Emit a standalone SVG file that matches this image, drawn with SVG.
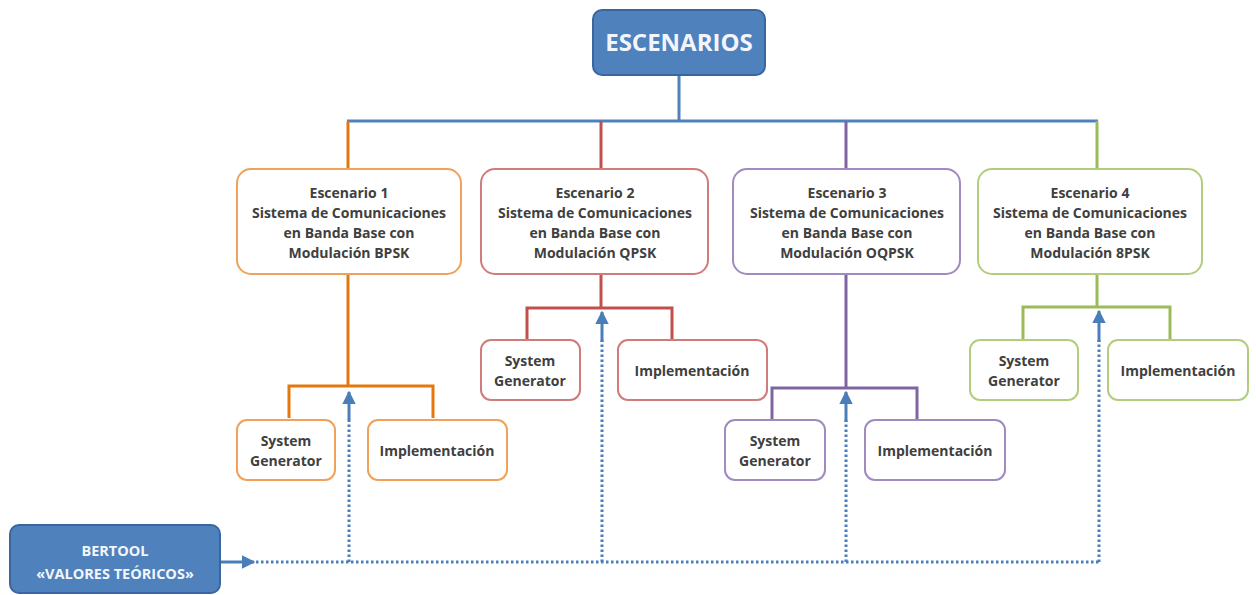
<svg xmlns="http://www.w3.org/2000/svg" width="1256" height="595" viewBox="0 0 1256 595">
  <defs>
    <marker id="ah" viewBox="0 0 10 10" refX="9" refY="5" markerWidth="4.6" markerHeight="4.6" orient="auto" markerUnits="strokeWidth">
      <path d="M0,0 L10,5 L0,10 z" fill="#4A7EBB"/>
    </marker>
  </defs>
  <style>
    text { font-family: "Open Sans", "Liberation Sans", sans-serif; font-weight: 700; text-anchor: middle; }
    .lbl { font-size: 14px; fill: #404040; }
    .hdr { fill: #4F81BD; stroke: #3A66A0; stroke-width: 2; }
    .wt { fill: #F2F6FC; }
    .box { fill: #fff; stroke-width: 2; }
    .ln { fill: none; stroke-width: 3; }
    .o { stroke: #E3780F; } .ob { stroke: #F0A15A; }
    .r { stroke: #C0504D; } .rb { stroke: #D07C7A; }
    .p { stroke: #8064A2; } .pb { stroke: #A18AC0; }
    .g { stroke: #9BBB59; } .gb { stroke: #B3CD7E; }
    .link { fill: none; stroke: #4A7EBB; stroke-width: 3; }
    .dot { fill: none; stroke: #4A7EBB; stroke-width: 3; stroke-dasharray: 2.5 2.5; }
  </style>

  <!-- connectors -->
  <g id="connectors">
    <path class="ln" stroke="#4F81BD" d="M679,76 V121 M347,121 H1098"/>
    <path class="ln o" d="M348,121 V169 M348,275 V386 M289,418 V386 H433 V418"/>
    <path class="ln r" d="M601,121 V169 M601,275 V308 M527,340 V308 H672 V340"/>
    <path class="ln p" d="M846,121 V169 M846,275 V388 M772,420 V388 H917 V420"/>
    <path class="ln g" d="M1097,121 V169 M1097,275 V307 M1023,340 V307 H1170 V340"/>
    <!-- BERTOOL feed -->
    <path class="link" d="M220,562 H254" marker-end="url(#ah)"/>
    <path class="dot" d="M256,562 H1099"/>
    <path class="dot" d="M349,562 V418 M602,562 V340 M846,562 V420 M1099,562 V340"/>
    <path class="link" d="M349,420 V392" marker-end="url(#ah)"/>
    <path class="link" d="M602,342 V312" marker-end="url(#ah)"/>
    <path class="link" d="M846,422 V392" marker-end="url(#ah)"/>
    <path class="link" d="M1099,342 V311" marker-end="url(#ah)"/>
  </g>

  <g id="escenarios">
    <rect class="hdr" x="593" y="10" width="172" height="65" rx="9"/>
    <text class="wt" x="679" y="51" font-size="24">ESCENARIOS</text>
  </g>

  <g id="bertool">
    <rect class="hdr" x="10" y="525" width="210" height="68" rx="9"/>
    <text class="wt" x="115" y="556" font-size="14.5">BERTOOL</text>
    <text class="wt" x="115" y="579" font-size="14.5">«VALORES TEÓRICOS»</text>
  </g>

  <g id="escenario1">
    <rect class="box ob" x="237" y="169" width="224" height="105" rx="14"/>
    <text class="lbl" x="349" y="198">Escenario 1</text>
    <text class="lbl" x="349" y="218">Sistema de Comunicaciones</text>
    <text class="lbl" x="349" y="238">en Banda Base con</text>
    <text class="lbl" x="349" y="258">Modulación BPSK</text>
  </g>
  <g id="escenario2">
    <rect class="box rb" x="481" y="169" width="227" height="105" rx="14"/>
    <text class="lbl" x="595" y="198">Escenario 2</text>
    <text class="lbl" x="595" y="218">Sistema de Comunicaciones</text>
    <text class="lbl" x="595" y="238">en Banda Base con</text>
    <text class="lbl" x="595" y="258">Modulación QPSK</text>
  </g>
  <g id="escenario3">
    <rect class="box pb" x="733" y="169" width="227" height="105" rx="14"/>
    <text class="lbl" x="847" y="198">Escenario 3</text>
    <text class="lbl" x="847" y="218">Sistema de Comunicaciones</text>
    <text class="lbl" x="847" y="238">en Banda Base con</text>
    <text class="lbl" x="847" y="258">Modulación OQPSK</text>
  </g>
  <g id="escenario4">
    <rect class="box gb" x="978" y="169" width="224" height="105" rx="14"/>
    <text class="lbl" x="1090" y="198">Escenario 4</text>
    <text class="lbl" x="1090" y="218">Sistema de Comunicaciones</text>
    <text class="lbl" x="1090" y="238">en Banda Base con</text>
    <text class="lbl" x="1090" y="258">Modulación 8PSK</text>
  </g>

  <g id="sysgen1">
    <rect class="box ob" x="237" y="420" width="98" height="60" rx="10"/>
    <text class="lbl" x="286" y="446">System</text>
    <text class="lbl" x="286" y="466">Generator</text>
  </g>
  <g id="impl1">
    <rect class="box ob" x="368" y="420" width="139" height="60" rx="10"/>
    <text class="lbl" x="437" y="456">Implementación</text>
  </g>
  <g id="sysgen2">
    <rect class="box rb" x="481" y="340" width="99" height="60" rx="10"/>
    <text class="lbl" x="530" y="366">System</text>
    <text class="lbl" x="530" y="386">Generator</text>
  </g>
  <g id="impl2">
    <rect class="box rb" x="618" y="340" width="149" height="60" rx="10"/>
    <text class="lbl" x="692" y="376">Implementación</text>
  </g>
  <g id="sysgen3">
    <rect class="box pb" x="725" y="420" width="100" height="60" rx="10"/>
    <text class="lbl" x="775" y="446">System</text>
    <text class="lbl" x="775" y="466">Generator</text>
  </g>
  <g id="impl3">
    <rect class="box pb" x="865" y="420" width="140" height="60" rx="10"/>
    <text class="lbl" x="935" y="456">Implementación</text>
  </g>
  <g id="sysgen4">
    <rect class="box gb" x="970" y="340" width="108" height="60" rx="10"/>
    <text class="lbl" x="1024" y="366">System</text>
    <text class="lbl" x="1024" y="386">Generator</text>
  </g>
  <g id="impl4">
    <rect class="box gb" x="1108" y="340" width="140" height="60" rx="10"/>
    <text class="lbl" x="1178" y="376">Implementación</text>
  </g>
</svg>
